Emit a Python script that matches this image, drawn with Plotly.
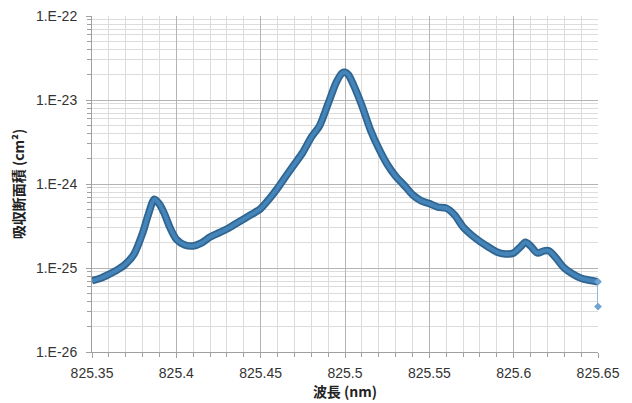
import plotly.graph_objects as go

# Data (wavelength in nm, absorption cross-section in cm^2)
wavelength = [825.350, 825.355, 825.360, 825.365, 825.370, 825.375, 825.380, 825.3835,
              825.387, 825.390, 825.393, 825.396, 825.400, 825.405, 825.410, 825.415,
              825.420, 825.425, 825.430, 825.435, 825.440, 825.445, 825.450, 825.455,
              825.460, 825.465, 825.470, 825.475, 825.480, 825.485, 825.490, 825.495,
              825.4985, 825.500, 825.502, 825.505, 825.510, 825.515, 825.520, 825.525,
              825.530, 825.535, 825.540, 825.545, 825.550, 825.555, 825.560, 825.565,
              825.570, 825.575, 825.580, 825.585, 825.590, 825.595, 825.600, 825.604,
              825.607, 825.610, 825.614, 825.618, 825.621, 825.625, 825.630, 825.635,
              825.640, 825.645, 825.650, 825.650]
cross_section = [7.05e-26, 7.55e-26, 8.4e-26, 9.5e-26, 1.12e-25, 1.47e-25, 2.6e-25, 4.4e-25,
                 6.6e-25, 5.75e-25, 4.4e-25, 3.1e-25, 2.2e-25, 1.88e-25, 1.83e-25, 1.99e-25,
                 2.34e-25, 2.61e-25, 2.91e-25, 3.34e-25, 3.83e-25, 4.39e-25, 5.1e-25, 6.6e-25,
                 8.9e-25, 1.24e-24, 1.72e-24, 2.38e-24, 3.59e-24, 4.98e-24, 9.06e-24, 1.65e-23,
                 2.11e-23, 2.14e-23, 2.0e-23, 1.52e-23, 8.6e-24, 4.45e-24, 2.65e-24, 1.72e-24,
                 1.24e-24, 9.7e-25, 7.47e-25, 6.34e-25, 5.84e-25, 5.31e-25, 5.16e-25, 4.27e-25,
                 3.08e-25, 2.47e-25, 2.07e-25, 1.78e-25, 1.55e-25, 1.47e-25, 1.51e-25, 1.78e-25,
                 2.02e-25, 1.83e-25, 1.51e-25, 1.6e-25, 1.6e-25, 1.32e-25, 1.0e-25, 8.5e-26,
                 7.55e-26, 7.15e-26, 6.87e-26, 3.47e-26]

x_tick_vals = [825.35, 825.40, 825.45, 825.50, 825.55, 825.60, 825.65]
x_tick_text = ["825.35", "825.4", "825.45", "825.5", "825.55", "825.6", "825.65"]
y_tick_vals = [1e-26, 1e-25, 1e-24, 1e-23, 1e-22]
y_tick_text = ["1.E-26", "1.E-25", "1.E-24", "1.E-23", "1.E-22"]

x_title = "波長 (nm)"
y_title = "吸収断面積 (cm²)"

main_x, main_y = wavelength[:-1], cross_section[:-1]
tail_x, tail_y = wavelength[-2:], cross_section[-2:]

fig = go.Figure()
# dense marker band: dark outline + lighter core
fig.add_trace(go.Scatter(x=main_x, y=main_y, mode="lines",
                         line=dict(color="#2f6590", width=7.5, shape="spline", smoothing=0.8),
                         showlegend=False))
fig.add_trace(go.Scatter(x=main_x, y=main_y, mode="lines",
                         line=dict(color="#4484b8", width=4, shape="spline", smoothing=0.8),
                         showlegend=False))
# thin tail segment with small markers
fig.add_trace(go.Scatter(x=tail_x, y=tail_y, mode="lines+markers",
                         line=dict(color="#6fa3d3", width=1.5),
                         marker=dict(symbol="diamond", size=6, color="#6fa3d3"),
                         cliponaxis=False, hoverinfo="skip", showlegend=False))

tick_font = dict(family="Liberation Sans, Arial, sans-serif", size=14, color="#333333")
title_font = dict(family="Noto Sans CJK JP, sans-serif", size=14, color="#222222")

# the page body adds an 8px offset, so the figure is sized to fit the window
fig.update_layout(
    width=624, height=395,
    margin=dict(l=84, r=34, t=8, b=51, autoexpand=False),
    paper_bgcolor="white", plot_bgcolor="white",
    showlegend=False,
)
fig.update_xaxes(
    range=[825.35, 825.65], automargin=False,
    tickvals=x_tick_vals, ticktext=x_tick_text, tickfont=tick_font,
    ticklabelstandoff=3, ticklabeloverflow="allow",
    showgrid=True, gridcolor="#b4b4b4", gridwidth=1,
    showline=True, linecolor="#a0a0a0", linewidth=1,
    ticks="outside", ticklen=5, tickcolor="#a0a0a0",
    minor=dict(dtick=0.01, showgrid=True, gridcolor="#dcdcdc", gridwidth=1,
               ticks="outside", ticklen=4, tickcolor="#a0a0a0"),
    zeroline=False,
    title=dict(text="<b>" + x_title + "</b>", font=title_font, standoff=4),
)
fig.update_yaxes(
    type="log", range=[-26, -22], automargin=False,
    tickvals=y_tick_vals, ticktext=y_tick_text, tickfont=tick_font,
    ticklabelstandoff=6, ticklabeloverflow="allow",
    showgrid=True, gridcolor="#b4b4b4", gridwidth=1,
    showline=True, linecolor="#a0a0a0", linewidth=1,
    ticks="outside", ticklen=5, tickcolor="#a0a0a0",
    minor=dict(dtick="D1", showgrid=True, gridcolor="#dcdcdc", gridwidth=1,
               ticks="outside", ticklen=4, tickcolor="#a0a0a0"),
    zeroline=False,
    title=dict(text="<b>" + y_title + "</b>", font=title_font, standoff=8),
)
fig.write_html("out.html")
